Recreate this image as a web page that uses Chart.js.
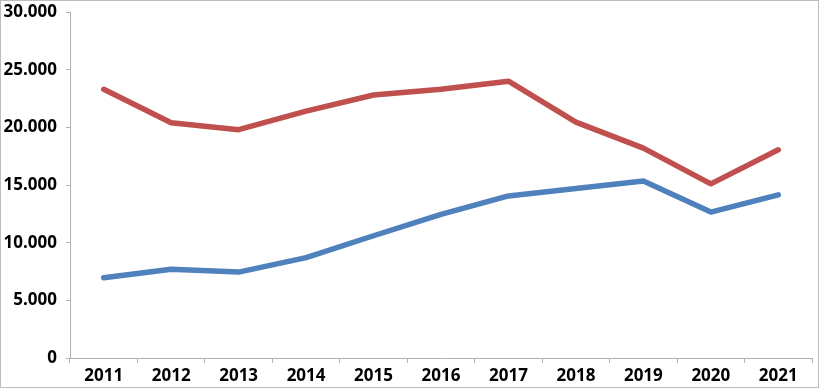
<!DOCTYPE html>
<html>
<head>
<meta charset="utf-8">
<script src="https://cdn.jsdelivr.net/npm/chart.js@4/dist/chart.umd.min.js"></script>
<style>
  body { margin: 0; background: #fff; }
  #wrap { width: 817px; height: 386px; border: 1px solid #bdbdbd; }
</style>
</head>
<body>
<div id="wrap"><canvas id="chart" width="817" height="386"></canvas></div>
<script>
// Data
const years = ['2011', '2012', '2013', '2014', '2015', '2016', '2017', '2018', '2019', '2020', '2021'];
const redSeries = [23300, 20400, 19800, 21400, 22800, 23300, 24000, 20450, 18200, 15100, 18050];
const blueSeries = [6950, 7700, 7450, 8700, 10600, 12450, 14050, 14700, 15350, 12650, 14150];
const yTicks = [0, 5000, 10000, 15000, 20000, 25000, 30000];

const axisColor = '#b0b0b0';
const tickFont = { family: 'Open Sans', size: 17, weight: 'bold' };

// Format like 30.000
function fmt(v) {
    return v === 0 ? '0' : v.toLocaleString('de-DE');
}

const ctx = document.getElementById('chart').getContext('2d');
new Chart(ctx, {
    type: 'line',
    data: {
        labels: years,
        datasets: [{
            label: 'Red',
            data: redSeries,
            borderColor: '#C0504D',
            borderWidth: 5.5,
            pointRadius: 0,
            tension: 0,
            borderCapStyle: 'round',
            borderJoinStyle: 'round'
        }, {
            label: 'Blue',
            data: blueSeries,
            borderColor: '#4F81BD',
            borderWidth: 5.5,
            pointRadius: 0,
            tension: 0,
            borderCapStyle: 'round',
            borderJoinStyle: 'round'
        }]
    },
    options: {
        responsive: false,
        animation: false,
        layout: { padding: { top: 11, right: 6, left: 0, bottom: 0 } },
        plugins: {
            legend: { display: false },
            tooltip: { enabled: false }
        },
        scales: {
            x: {
                offset: true,
                grid: {
                    offset: true,
                    drawOnChartArea: false,
                    drawTicks: true,
                    tickLength: 5,
                    color: axisColor
                },
                border: { color: axisColor, width: 1 },
                ticks: { color: '#000', font: tickFont, padding: 3, maxRotation: 0 },
                afterFit(scale) { scale.height = 29; }
            },
            y: {
                min: 0,
                max: 30000,
                afterBuildTicks(scale) {
                    scale.ticks = yTicks.map(v => ({ value: v }));
                },
                grid: {
                    drawOnChartArea: false,
                    drawTicks: true,
                    tickLength: 4,
                    color: axisColor
                },
                border: { color: axisColor, width: 1 },
                ticks: {
                    color: '#000',
                    font: tickFont,
                    padding: 9,
                    callback: v => fmt(v)
                },
                afterFit(scale) {
                    scale.width = 69;
                    scale.paddingTop = 0;
                    scale.paddingBottom = 0;
                }
            }
        }
    }
});
</script>
</body>
</html>
